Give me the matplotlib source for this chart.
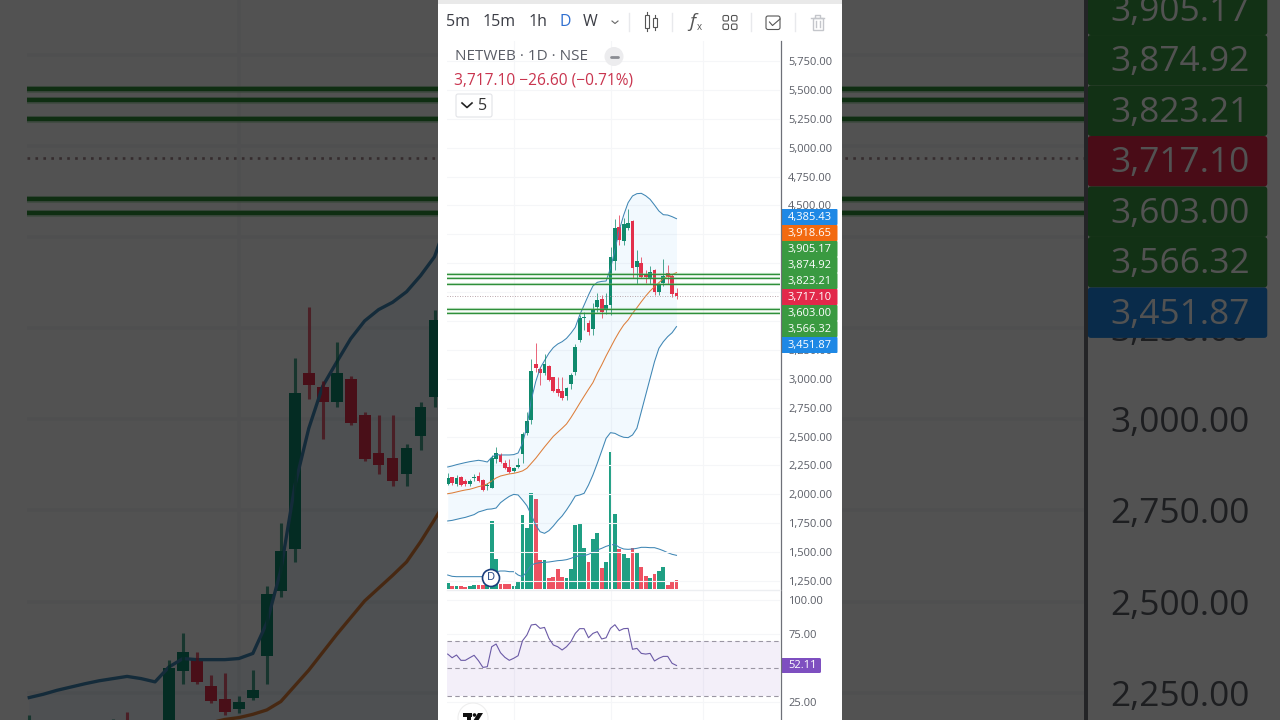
import numpy as np
import matplotlib
matplotlib.use("Agg")
import matplotlib.pyplot as plt
from matplotlib.patches import Rectangle, FancyBboxPatch, Circle, Polygon

plt.rcParams['font.family'] = ['Open Sans', 'DejaVu Sans']

# datos
opens = [2090, 2148, 2090, 2148, 2119, 2093, 2145, 2159, 2122, 2076, 2058, 2309, 2344, 2269, 2234, 2205, 2237,
         2350, 2528, 2644, 3128, 3088, 3048, 3111, 3013, 2909, 2895, 2851, 2955, 3062, 3336, 3529, 3480, 3428,
         3618, 3690, 3604, 3639, 4022, 4310, 4192, 4308, 4368, 3964, 3999, 3907, 3875, 3941, 3751, 3832, 3912,
         3889, 3744]
highs = [2188, 2154, 2168, 2159, 2130, 2130, 2177, 2197, 2130, 2102, 2341, 2413, 2361, 2298, 2303, 2240, 2312,
         2543, 2716, 3169, 3307, 3105, 3212, 3120, 3019, 3013, 3013, 2932, 3048, 3301, 3552, 3581, 3509, 3653,
         3739, 3725, 3739, 4143, 4380, 4417, 4388, 4466, 4374, 4114, 4051, 3941, 3976, 3947, 3826, 4037, 3985,
         3907, 3783]
lows = [2081, 2081, 2073, 2073, 2076, 2076, 2119, 2110, 2032, 2038, 2053, 2275, 2275, 2223, 2188, 2194, 2231,
        2275, 2514, 2609, 3056, 2947, 3033, 2984, 2886, 2851, 2817, 2817, 2915, 3033, 3321, 3422, 3379, 3379,
        3581, 3523, 3561, 3552, 3941, 4158, 4158, 4287, 3869, 3820, 3869, 3826, 3820, 3725, 3725, 3803, 3820,
        3705, 3688]
closes = [2139, 2096, 2139, 2081, 2090, 2113, 2153, 2119, 2038, 2081, 2318, 2361, 2280, 2228, 2197, 2226, 2257,
          2520, 2638, 3071, 3094, 3048, 3128, 2990, 2892, 2875, 2831, 2921, 3033, 3272, 3529, 3538, 3408, 3601,
          3682, 3575, 3639, 4051, 4302, 4201, 4336, 4351, 3956, 4019, 3878, 3878, 3921, 3751, 3809, 3892, 3878,
          3734, 3717.1]
bb_upper = [2237, 2246, 2257, 2266, 2275, 2283, 2289, 2295, 2289, 2280, 2321, 2344, 2341, 2341, 2341, 2344, 2358,
            2442, 2586, 2817, 2975, 3091, 3157, 3221, 3270, 3301, 3321, 3350, 3394, 3446, 3552, 3638, 3725, 3803,
            3835, 3843, 3846, 3956, 4114, 4287, 4417, 4524, 4582, 4602, 4605, 4584, 4553, 4504, 4452, 4420, 4417,
            4403, 4385.43]
bb_basis = [2006, 2012, 2021, 2030, 2038, 2044, 2055, 2067, 2076, 2090, 2116, 2142, 2159, 2168, 2177, 2182, 2191,
            2203, 2226, 2269, 2312, 2361, 2410, 2456, 2502, 2537, 2572, 2609, 2664, 2725, 2788, 2849, 2909, 2967,
            3048, 3120, 3198, 3270, 3342, 3408, 3466, 3509, 3566, 3615, 3667, 3716, 3760, 3797, 3832, 3866, 3889,
            3901, 3918.65]
bb_lower = [1770, 1775, 1784, 1793, 1801, 1813, 1825, 1848, 1859, 1871, 1874, 1882, 1928, 1957, 1983, 2000, 1995,
            1951, 1902, 1822, 1735, 1677, 1663, 1686, 1726, 1773, 1813, 1865, 1923, 1986, 1995, 2009, 2081, 2168,
            2269, 2376, 2485, 2534, 2528, 2508, 2494, 2491, 2514, 2572, 2716, 2860, 3004, 3148, 3264, 3321, 3365,
            3399, 3451.87]
volumes = [17, 9, 9, 9, 5, 9, 12, 12, 12, 12, 204, 90, 15, 15, 15, 10, 20, 222, 184, 289, 270, 87, 87, 32, 35, 59,
           35, 34, 59, 192, 197, 123, 80, 150, 167, 64, 80, 411, 226, 120, 104, 94, 123, 110, 66, 39, 32, 44, 54,
           66, 12, 25, 27]
vol_ma = [42, 38, 37, 37, 37, 37, 37, 37, 37, 37, 45, 52, 54, 54, 52, 52, 42, 37, 52, 72, 77, 79, 80, 81, 83, 85,
          86, 88, 92, 97, 100, 100, 104, 110, 117, 122, 128, 132, 134, 125, 120, 119, 120, 122, 125, 125, 124, 124,
          120, 115, 109, 104, 101]
rsi = [60.5, 57.8, 59.8, 55.9, 55.9, 57.8, 59.6, 55.6, 50.7, 51.2, 65.9, 67.9, 61.5, 58.1, 55.9, 57.4, 59.3, 70.3,
       74.5, 81.9, 82.4, 79.4, 80.1, 72.1, 67.2, 65.9, 63.5, 65.9, 69.6, 75.7, 79.2, 79.2, 72.5, 75.7, 77.0, 71.6,
       72.5, 79.4, 82.1, 77.7, 79.2, 79.4, 64.0, 64.7, 61.0, 60.5, 61.0, 55.4, 57.4, 58.8, 58.8, 53.7, 52.11]

levels = [3905.17, 3874.92, 3823.21, 3603.00, 3566.32]
last_price = 3717.10
price_ticks = list(range(1250, 6000, 250))
hidden_ticks = [3500, 3750, 4000, 4250]  # quedan debajo de las etiquetas
rsi_ticks = [25, 75, 100]
rsi_bands = [70, 50, 30]

tag_values = ["4,385.43", "3,918.65", "3,905.17", "3,874.92", "3,823.21", "3,717.10", "3,603.00", "3,566.32", "3,451.87"]
tag_colors = ['#1e88e5', '#f26a10', '#3a9a41', '#3a9a41', '#3a9a41', '#e2284a', '#3a9a41', '#3a9a41', '#1e88e5']
tag_y = [217, 233, 249, 265, 281, 297, 313, 329, 345]

green = '#0f8a6d'
red = '#e3304b'
vol_green = '#1f9f83'
vol_red = '#ee5262'
band_blue = '#3f86b4'
grid_col = '#f5f6f8'

x = np.arange(len(opens))
x0, step = 447.7, 4.4
pane_l, pane_r, pane_t, pane_b = 447, 780, 41, 590

fig = plt.figure(figsize=(12.8, 7.2), dpi=100, facecolor='white')


def axes_px(s, sy, l, t, r, b, z):
    # caja en pixeles, escalada alrededor del centro de la imagen
    fl = (640 + (l - 640) * s) / 1280
    fr = (640 + (r - 640) * s) / 1280
    ft = 1 - (360 + (t - 360) * sy) / 720
    fb = 1 - (360 + (b - 360) * sy) / 720
    return fig.add_axes([fl, fb, fr - fl, ft - fb], zorder=z)


def style_axis(ax, s, ticks, labels, grid_x):
    for side in ax.spines:
        ax.spines[side].set_visible(False)
    ax.set_xlim((pane_l - x0) / step, (pane_r - x0) / step)
    ax.set_xticks(grid_x)
    ax.set_xticklabels([])
    ax.yaxis.tick_right()
    ax.set_yticks(ticks)
    ax.set_yticklabels(labels)
    ax.tick_params(axis='both', length=0, pad=5.8 * s, labelsize=8 * s, labelcolor='#5a5d66')
    ax.grid(True, color=grid_col, linewidth=0.8 * s)
    ax.set_axisbelow(True)


def draw_chart(s, sy, z, label_ticks, with_rsi):
    # volumen abajo
    ax_vol = axes_px(s, sy, pane_l, pane_t, pane_r, pane_b, z)
    ax_vol.axis('off')
    ax_vol.set_xlim((pane_l - x0) / step, (pane_r - x0) / step)
    ax_vol.set_ylim(-3, 1644)
    vol_cols = [vol_green if c >= o else vol_red for o, c in zip(opens, closes)]
    ax_vol.bar(x, volumes, width=0.88, color=vol_cols, linewidth=0)
    ax_vol.plot(x, vol_ma, color=band_blue, linewidth=0.75 * s)

    # precio
    ax = axes_px(s, sy, pane_l, pane_t, pane_r, pane_b, z + 1)
    ax.patch.set_alpha(0)
    ax.set_ylim(1172.6, 5923)
    labels = [f"{t:,.2f}" if t in label_ticks else "" for t in price_ticks]
    style_axis(ax, s, price_ticks, labels, [15, 37, 58])
    ax.fill_between(x, bb_lower, bb_upper, color='#2196f3', alpha=0.055, linewidth=0)
    ax.plot(x, bb_upper, color=band_blue, linewidth=0.75 * s)
    ax.plot(x, bb_lower, color=band_blue, linewidth=0.75 * s)
    ax.plot(x, bb_basis, color='#dd7e3a', linewidth=0.75 * s)
    cols = [green if c >= o else red for o, c in zip(opens, closes)]
    ax.vlines(x, lows, highs, colors=cols, linewidth=0.7 * s, alpha=0.75)
    o = np.array(opens, dtype=float)
    c = np.array(closes, dtype=float)
    ax.bar(x, np.maximum(np.abs(c - o), 8), bottom=np.minimum(o, c), width=0.84, color=cols, linewidth=0)
    for lv in levels:
        ax.axhline(lv, color='#7fc685', linewidth=1.6 * s, alpha=0.4)
        ax.axhline(lv, color='#2f8f3a', linewidth=1.0 * s)
    ax.axhline(last_price, color='#a58a90', linewidth=0.6 * s, linestyle=(0, (1, 2)))

    if with_rsi:
        ax_r = axes_px(s, sy, pane_l, 591, pane_r, 720, z + 1)
        ax_r.patch.set_alpha(0)
        ax_r.set_ylim(12, 106.9)
        style_axis(ax_r, s, rsi_ticks, [f"{t:.2f}" for t in rsi_ticks], [15, 37, 58])
        ax_r.axhspan(rsi_bands[2], rsi_bands[0], color='#7e57c2', alpha=0.09, linewidth=0)
        for b in rsi_bands:
            ax_r.axhline(b, color='#9a96a3', linewidth=0.8 * s, linestyle=(0, (4, 3)))
        ax_r.plot(x, rsi, color='#6b5aa6', linewidth=0.8 * s)

    # capa de pixeles, encima del eje
    top = axes_px(s, sy, 0, 0, 1280, 720, z + 2)
    top.set_xlim(0, 1280)
    top.set_ylim(720, 0)
    top.axis('off')
    top.plot([780.5, 780.5], [41, 720], color='#6e7078', linewidth=0.9 * s)
    for val, col, y in zip(tag_values, tag_colors, tag_y):
        if not with_rsi and y < 240:
            continue
        top.add_patch(FancyBboxPatch((781, y - 8), 56.5, 16, boxstyle='round,pad=0,rounding_size=1',
                                     facecolor=col, edgecolor='none', linewidth=0))
        top.text(788, y + 0.7, val, color='white', fontsize=8 * s, va='center', ha='left')
    return top


# fondo ampliado y oscurecido
draw_chart(3.176, 3.155, 1, [2250, 2500, 2750, 3000, 3250], False)

shade = fig.add_axes([0, 0, 1, 1], zorder=5)
shade.set_xlim(0, 1280)
shade.set_ylim(720, 0)
shade.axis('off')
shade.add_patch(Rectangle((0, 0), 1280, 720, facecolor='black', alpha=0.68, linewidth=0))
shade.add_patch(Rectangle((438, 0), 404, 720, facecolor='white', linewidth=0))
shade.add_patch(Rectangle((438, 0), 404, 4, facecolor='#e9e9e9', linewidth=0))

# grafico central
top = draw_chart(1, 1, 6, [t for t in price_ticks if t not in hidden_ticks], True)

# etiqueta RSI
top.add_patch(FancyBboxPatch((781, 658), 40, 15, boxstyle='round,pad=0,rounding_size=1.5',
                             facecolor='#7e4fc0', edgecolor='none', linewidth=0))
top.text(788, 665.7, "52.11", color='white', fontsize=8, va='center', ha='left')
top.plot([447, 780], [590, 590], color='#eceef1', linewidth=1)

# barra de herramientas
for label, xt, col in [("5m", 458, '#3b3d45'), ("15m", 499, '#3b3d45'), ("1h", 538, '#3b3d45'),
                       ("D", 565, '#2f6fd0'), ("W", 590, '#3b3d45')]:
    top.text(xt, 22.5, label, color=col, fontsize=11.5, ha='center', va='center')
top.plot([612, 615, 618], [21, 23.5, 21], color='#666', linewidth=0.8)
for xs in [629, 672, 751, 795]:
    top.plot([xs, xs], [13, 31], color='#e8e9ec', linewidth=1)
# icono velas
top.plot([647, 647], [12, 31], color='#555', linewidth=0.8)
top.add_patch(Rectangle((645, 15), 4, 13, facecolor='white', edgecolor='#555', linewidth=0.8, zorder=3))
top.plot([655, 655], [15, 30], color='#555', linewidth=0.8)
top.add_patch(Rectangle((653, 18), 4, 9, facecolor='white', edgecolor='#555', linewidth=0.8, zorder=3))
# icono fx
top.text(692, 22, "f", color='#555', fontsize=14, style='italic', ha='center', va='center')
top.text(699.5, 27, "x", color='#555', fontsize=7, ha='center', va='center')
# icono cuadros
for xq in [723, 731.5]:
    for yq in [15.5, 24]:
        top.add_patch(FancyBboxPatch((xq, yq), 5.5, 5.5, boxstyle='round,pad=0,rounding_size=1.5',
                                     facecolor='white', edgecolor='#555', linewidth=0.8))
# icono checkbox
top.add_patch(FancyBboxPatch((766, 16), 14, 13.5, boxstyle='round,pad=0,rounding_size=2',
                             facecolor='white', edgecolor='#555', linewidth=0.8))
top.plot([769.5, 772.5, 780], [22, 25.5, 19], color='#555', linewidth=0.8)
# icono papelera
top.plot([811, 824], [17.5, 17.5], color='#c4c6cb', linewidth=1)
top.plot([815, 815, 820, 820], [17, 14.5, 14.5, 17], color='#c4c6cb', linewidth=1)
top.add_patch(Rectangle((812.5, 18), 10, 12, facecolor='white', edgecolor='#c4c6cb', linewidth=1))
top.plot([816, 816], [21, 27], color='#c4c6cb', linewidth=1)
top.plot([819.5, 819.5], [21, 27], color='#c4c6cb', linewidth=1)

# leyenda
top.text(455, 57, "NETWEB · 1D · NSE", color='#5a5d66', fontsize=11, ha='left', va='center')
top.add_patch(Circle((614, 56.5), 9.5, facecolor='#ececee', edgecolor='none'))
top.plot([610.5, 617.5], [56.5, 56.5], color='#8a8c92', linewidth=2, solid_capstyle='round')
top.text(454, 80.5, "3,717.10 −26.60 (−0.71%)", color='#c9344e', fontsize=11.2, ha='left', va='center')
top.add_patch(FancyBboxPatch((456, 94), 36, 23, boxstyle='round,pad=0,rounding_size=2',
                             facecolor='white', edgecolor='#e2e3e7', linewidth=0.8))
top.plot([462, 467, 472], [103, 107.5, 103], color='#222', linewidth=1.2)
top.text(483, 105.5, "5", color='#333', fontsize=11.5, ha='center', va='center')

# marca D
top.add_patch(Circle((491, 578), 8.5, facecolor='white', edgecolor='#1a3d7c', linewidth=1.2))
top.text(491, 578, "D", color='#1a3d7c', fontsize=8, ha='center', va='center')

# logo abajo
top.add_patch(Circle((473, 718), 15, facecolor='white', edgecolor='#eeeeee', linewidth=0.8))
top.add_patch(Rectangle((463, 713), 9, 3.5, facecolor='#111', linewidth=0))
top.add_patch(Rectangle((467, 713), 3.5, 8, facecolor='#111', linewidth=0))
top.add_patch(Circle((474.5, 715), 1.8, facecolor='#111', linewidth=0))
top.add_patch(Polygon([(478, 713), (483, 713), (478, 721), (473, 721)], facecolor='#111', linewidth=0))

fig.savefig("out.png", dpi=100)
